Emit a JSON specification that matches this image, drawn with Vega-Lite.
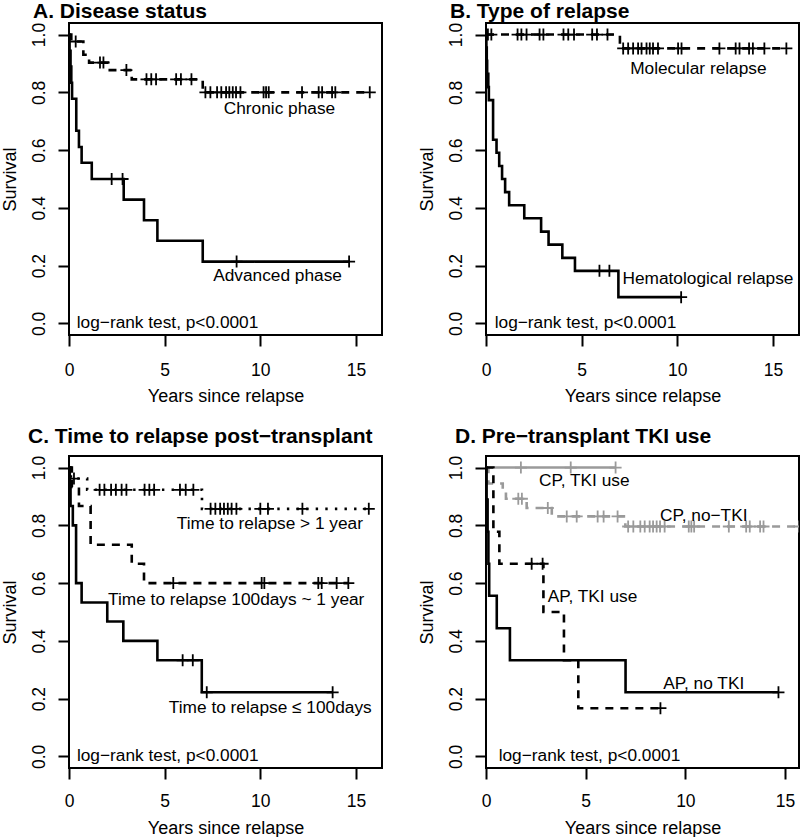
{
  "$schema": "https://vega.github.io/schema/vega-lite/v6.json",
  "padding": {"top": 0, "left": 0, "right": 0, "bottom": 0},
  "background": "white",
  "datasets": {
    "km": [
      {"p":"A","g":"Chronic phase","t":0,"s":1},
      {"p":"A","g":"Chronic phase","t":0.12,"s":0.976},
      {"p":"A","g":"Chronic phase","t":0.35,"s":0.976,"c":1},
      {"p":"A","g":"Chronic phase","t":0.75,"s":0.93},
      {"p":"A","g":"Chronic phase","t":1.05,"s":0.903},
      {"p":"A","g":"Chronic phase","t":1.62,"s":0.903,"c":1},
      {"p":"A","g":"Chronic phase","t":1.8,"s":0.903,"c":1},
      {"p":"A","g":"Chronic phase","t":2.04,"s":0.877},
      {"p":"A","g":"Chronic phase","t":3.0,"s":0.877,"c":1},
      {"p":"A","g":"Chronic phase","t":3.28,"s":0.845},
      {"p":"A","g":"Chronic phase","t":4.05,"s":0.845,"c":1},
      {"p":"A","g":"Chronic phase","t":4.3,"s":0.845,"c":1},
      {"p":"A","g":"Chronic phase","t":4.55,"s":0.845,"c":1},
      {"p":"A","g":"Chronic phase","t":5.6,"s":0.845,"c":1},
      {"p":"A","g":"Chronic phase","t":5.85,"s":0.845,"c":1},
      {"p":"A","g":"Chronic phase","t":6.4,"s":0.845,"c":1},
      {"p":"A","g":"Chronic phase","t":6.99,"s":0.8},
      {"p":"A","g":"Chronic phase","t":7.13,"s":0.8,"c":1},
      {"p":"A","g":"Chronic phase","t":7.39,"s":0.8,"c":1},
      {"p":"A","g":"Chronic phase","t":7.74,"s":0.8,"c":1},
      {"p":"A","g":"Chronic phase","t":7.96,"s":0.8,"c":1},
      {"p":"A","g":"Chronic phase","t":8.21,"s":0.8,"c":1},
      {"p":"A","g":"Chronic phase","t":8.38,"s":0.8,"c":1},
      {"p":"A","g":"Chronic phase","t":8.56,"s":0.8,"c":1},
      {"p":"A","g":"Chronic phase","t":8.73,"s":0.8,"c":1},
      {"p":"A","g":"Chronic phase","t":8.96,"s":0.8,"c":1},
      {"p":"A","g":"Chronic phase","t":10.17,"s":0.8,"c":1},
      {"p":"A","g":"Chronic phase","t":10.3,"s":0.8,"c":1},
      {"p":"A","g":"Chronic phase","t":10.44,"s":0.8,"c":1},
      {"p":"A","g":"Chronic phase","t":12.18,"s":0.8,"c":1},
      {"p":"A","g":"Chronic phase","t":13.05,"s":0.8,"c":1},
      {"p":"A","g":"Chronic phase","t":13.23,"s":0.8,"c":1},
      {"p":"A","g":"Chronic phase","t":13.75,"s":0.8,"c":1},
      {"p":"A","g":"Chronic phase","t":13.92,"s":0.8,"c":1},
      {"p":"A","g":"Chronic phase","t":15.72,"s":0.8,"c":1},

      {"p":"A","g":"Advanced phase","t":0,"s":1},
      {"p":"A","g":"Advanced phase","t":0.03,"s":0.944},
      {"p":"A","g":"Advanced phase","t":0.08,"s":0.889},
      {"p":"A","g":"Advanced phase","t":0.12,"s":0.833},
      {"p":"A","g":"Advanced phase","t":0.16,"s":0.778},
      {"p":"A","g":"Advanced phase","t":0.38,"s":0.667},
      {"p":"A","g":"Advanced phase","t":0.52,"s":0.611},
      {"p":"A","g":"Advanced phase","t":0.66,"s":0.556},
      {"p":"A","g":"Advanced phase","t":1.19,"s":0.5},
      {"p":"A","g":"Advanced phase","t":2.23,"s":0.5,"c":1},
      {"p":"A","g":"Advanced phase","t":2.8,"s":0.5,"c":1},
      {"p":"A","g":"Advanced phase","t":2.86,"s":0.4286},
      {"p":"A","g":"Advanced phase","t":3.92,"s":0.357},
      {"p":"A","g":"Advanced phase","t":4.62,"s":0.286},
      {"p":"A","g":"Advanced phase","t":6.99,"s":0.214},
      {"p":"A","g":"Advanced phase","t":8.76,"s":0.214,"c":1},
      {"p":"A","g":"Advanced phase","t":14.64,"s":0.214,"c":1},

      {"p":"B","g":"Molecular relapse","t":0,"s":1},
      {"p":"B","g":"Molecular relapse","t":0.1,"s":1,"c":1},
      {"p":"B","g":"Molecular relapse","t":0.28,"s":1,"c":1},
      {"p":"B","g":"Molecular relapse","t":1.65,"s":1,"c":1},
      {"p":"B","g":"Molecular relapse","t":1.85,"s":1,"c":1},
      {"p":"B","g":"Molecular relapse","t":2.12,"s":1,"c":1},
      {"p":"B","g":"Molecular relapse","t":2.8,"s":1,"c":1},
      {"p":"B","g":"Molecular relapse","t":3.0,"s":1,"c":1},
      {"p":"B","g":"Molecular relapse","t":4.05,"s":1,"c":1},
      {"p":"B","g":"Molecular relapse","t":4.3,"s":1,"c":1},
      {"p":"B","g":"Molecular relapse","t":4.6,"s":1,"c":1},
      {"p":"B","g":"Molecular relapse","t":5.55,"s":1,"c":1},
      {"p":"B","g":"Molecular relapse","t":5.8,"s":1,"c":1},
      {"p":"B","g":"Molecular relapse","t":6.35,"s":1,"c":1},
      {"p":"B","g":"Molecular relapse","t":7.0,"s":0.952},
      {"p":"B","g":"Molecular relapse","t":7.17,"s":0.952,"c":1},
      {"p":"B","g":"Molecular relapse","t":7.43,"s":0.952,"c":1},
      {"p":"B","g":"Molecular relapse","t":7.69,"s":0.952,"c":1},
      {"p":"B","g":"Molecular relapse","t":7.95,"s":0.952,"c":1},
      {"p":"B","g":"Molecular relapse","t":8.13,"s":0.952,"c":1},
      {"p":"B","g":"Molecular relapse","t":8.39,"s":0.952,"c":1},
      {"p":"B","g":"Molecular relapse","t":8.56,"s":0.952,"c":1},
      {"p":"B","g":"Molecular relapse","t":8.73,"s":0.952,"c":1},
      {"p":"B","g":"Molecular relapse","t":8.99,"s":0.952,"c":1},
      {"p":"B","g":"Molecular relapse","t":10.04,"s":0.952,"c":1},
      {"p":"B","g":"Molecular relapse","t":10.22,"s":0.952,"c":1},
      {"p":"B","g":"Molecular relapse","t":12.2,"s":0.952,"c":1},
      {"p":"B","g":"Molecular relapse","t":13.05,"s":0.952,"c":1},
      {"p":"B","g":"Molecular relapse","t":13.25,"s":0.952,"c":1},
      {"p":"B","g":"Molecular relapse","t":13.75,"s":0.952,"c":1},
      {"p":"B","g":"Molecular relapse","t":13.95,"s":0.952,"c":1},
      {"p":"B","g":"Molecular relapse","t":14.55,"s":0.952,"c":1},
      {"p":"B","g":"Molecular relapse","t":15.7,"s":0.952,"c":1},

      {"p":"B","g":"Hematological relapse","t":0,"s":1},
      {"p":"B","g":"Hematological relapse","t":0.02,"s":0.955},
      {"p":"B","g":"Hematological relapse","t":0.04,"s":0.909},
      {"p":"B","g":"Hematological relapse","t":0.06,"s":0.864},
      {"p":"B","g":"Hematological relapse","t":0.12,"s":0.818},
      {"p":"B","g":"Hematological relapse","t":0.15,"s":0.773},
      {"p":"B","g":"Hematological relapse","t":0.37,"s":0.636},
      {"p":"B","g":"Hematological relapse","t":0.55,"s":0.591},
      {"p":"B","g":"Hematological relapse","t":0.69,"s":0.545},
      {"p":"B","g":"Hematological relapse","t":0.84,"s":0.5},
      {"p":"B","g":"Hematological relapse","t":1.0,"s":0.4545},
      {"p":"B","g":"Hematological relapse","t":1.21,"s":0.409},
      {"p":"B","g":"Hematological relapse","t":2.0,"s":0.364},
      {"p":"B","g":"Hematological relapse","t":2.88,"s":0.318},
      {"p":"B","g":"Hematological relapse","t":3.27,"s":0.273},
      {"p":"B","g":"Hematological relapse","t":3.99,"s":0.227},
      {"p":"B","g":"Hematological relapse","t":4.65,"s":0.182},
      {"p":"B","g":"Hematological relapse","t":5.93,"s":0.182,"c":1},
      {"p":"B","g":"Hematological relapse","t":6.45,"s":0.182,"c":1},
      {"p":"B","g":"Hematological relapse","t":6.92,"s":0.091},
      {"p":"B","g":"Hematological relapse","t":10.2,"s":0.091,"c":1},

      {"p":"C","g":"Time to relapse > 1 year","t":0,"s":1},
      {"p":"C","g":"Time to relapse > 1 year","t":0.1,"s":0.962},
      {"p":"C","g":"Time to relapse > 1 year","t":0.26,"s":0.962,"c":1},
      {"p":"C","g":"Time to relapse > 1 year","t":0.95,"s":0.923},
      {"p":"C","g":"Time to relapse > 1 year","t":1.6,"s":0.923,"c":1},
      {"p":"C","g":"Time to relapse > 1 year","t":1.85,"s":0.923,"c":1},
      {"p":"C","g":"Time to relapse > 1 year","t":2.2,"s":0.923,"c":1},
      {"p":"C","g":"Time to relapse > 1 year","t":2.45,"s":0.923,"c":1},
      {"p":"C","g":"Time to relapse > 1 year","t":2.75,"s":0.923,"c":1},
      {"p":"C","g":"Time to relapse > 1 year","t":3.0,"s":0.923,"c":1},
      {"p":"C","g":"Time to relapse > 1 year","t":3.95,"s":0.923,"c":1},
      {"p":"C","g":"Time to relapse > 1 year","t":4.2,"s":0.923,"c":1},
      {"p":"C","g":"Time to relapse > 1 year","t":4.45,"s":0.923,"c":1},
      {"p":"C","g":"Time to relapse > 1 year","t":5.8,"s":0.923,"c":1},
      {"p":"C","g":"Time to relapse > 1 year","t":6.1,"s":0.923,"c":1},
      {"p":"C","g":"Time to relapse > 1 year","t":6.5,"s":0.923,"c":1},
      {"p":"C","g":"Time to relapse > 1 year","t":6.95,"s":0.857},
      {"p":"C","g":"Time to relapse > 1 year","t":7.4,"s":0.857,"c":1},
      {"p":"C","g":"Time to relapse > 1 year","t":7.65,"s":0.857,"c":1},
      {"p":"C","g":"Time to relapse > 1 year","t":7.9,"s":0.857,"c":1},
      {"p":"C","g":"Time to relapse > 1 year","t":8.1,"s":0.857,"c":1},
      {"p":"C","g":"Time to relapse > 1 year","t":8.3,"s":0.857,"c":1},
      {"p":"C","g":"Time to relapse > 1 year","t":8.5,"s":0.857,"c":1},
      {"p":"C","g":"Time to relapse > 1 year","t":8.75,"s":0.857,"c":1},
      {"p":"C","g":"Time to relapse > 1 year","t":10.0,"s":0.857,"c":1},
      {"p":"C","g":"Time to relapse > 1 year","t":10.4,"s":0.857,"c":1},
      {"p":"C","g":"Time to relapse > 1 year","t":12.2,"s":0.857,"c":1},
      {"p":"C","g":"Time to relapse > 1 year","t":15.67,"s":0.857,"c":1},

      {"p":"C","g":"Time to relapse 100days ~ 1 year","t":0,"s":1},
      {"p":"C","g":"Time to relapse 100days ~ 1 year","t":0.15,"s":0.933},
      {"p":"C","g":"Time to relapse 100days ~ 1 year","t":0.52,"s":0.867},
      {"p":"C","g":"Time to relapse 100days ~ 1 year","t":1.13,"s":0.733},
      {"p":"C","g":"Time to relapse 100days ~ 1 year","t":3.28,"s":0.667},
      {"p":"C","g":"Time to relapse 100days ~ 1 year","t":3.92,"s":0.6},
      {"p":"C","g":"Time to relapse 100days ~ 1 year","t":5.45,"s":0.6,"c":1},
      {"p":"C","g":"Time to relapse 100days ~ 1 year","t":10.07,"s":0.6,"c":1},
      {"p":"C","g":"Time to relapse 100days ~ 1 year","t":10.21,"s":0.6,"c":1},
      {"p":"C","g":"Time to relapse 100days ~ 1 year","t":13.03,"s":0.6,"c":1},
      {"p":"C","g":"Time to relapse 100days ~ 1 year","t":13.21,"s":0.6,"c":1},
      {"p":"C","g":"Time to relapse 100days ~ 1 year","t":13.99,"s":0.6,"c":1},
      {"p":"C","g":"Time to relapse 100days ~ 1 year","t":14.6,"s":0.6,"c":1},

      {"p":"C","g":"Time to relapse ≤ 100days","t":0,"s":1},
      {"p":"C","g":"Time to relapse ≤ 100days","t":0.04,"s":0.933},
      {"p":"C","g":"Time to relapse ≤ 100days","t":0.08,"s":0.867},
      {"p":"C","g":"Time to relapse ≤ 100days","t":0.2,"s":0.8},
      {"p":"C","g":"Time to relapse ≤ 100days","t":0.37,"s":0.6},
      {"p":"C","g":"Time to relapse ≤ 100days","t":0.66,"s":0.533},
      {"p":"C","g":"Time to relapse ≤ 100days","t":2.0,"s":0.467},
      {"p":"C","g":"Time to relapse ≤ 100days","t":2.84,"s":0.4},
      {"p":"C","g":"Time to relapse ≤ 100days","t":4.62,"s":0.333},
      {"p":"C","g":"Time to relapse ≤ 100days","t":5.94,"s":0.333,"c":1},
      {"p":"C","g":"Time to relapse ≤ 100days","t":6.47,"s":0.333,"c":1},
      {"p":"C","g":"Time to relapse ≤ 100days","t":6.94,"s":0.222},
      {"p":"C","g":"Time to relapse ≤ 100days","t":7.2,"s":0.222,"c":1},
      {"p":"C","g":"Time to relapse ≤ 100days","t":13.78,"s":0.222,"c":1},

      {"p":"D","g":"CP, TKI use","t":0,"s":1},
      {"p":"D","g":"CP, TKI use","t":1.75,"s":1,"c":1},
      {"p":"D","g":"CP, TKI use","t":4.25,"s":1,"c":1},
      {"p":"D","g":"CP, TKI use","t":6.5,"s":1,"c":1},

      {"p":"D","g":"CP, no−TKI","t":0,"s":1},
      {"p":"D","g":"CP, no−TKI","t":0.12,"s":0.945},
      {"p":"D","g":"CP, no−TKI","t":0.84,"s":0.917},
      {"p":"D","g":"CP, no−TKI","t":1.0,"s":0.892},
      {"p":"D","g":"CP, no−TKI","t":1.62,"s":0.892,"c":1},
      {"p":"D","g":"CP, no−TKI","t":1.8,"s":0.892,"c":1},
      {"p":"D","g":"CP, no−TKI","t":2.04,"s":0.86},
      {"p":"D","g":"CP, no−TKI","t":3.1,"s":0.86,"c":1},
      {"p":"D","g":"CP, no−TKI","t":3.3,"s":0.831},
      {"p":"D","g":"CP, no−TKI","t":4.05,"s":0.831,"c":1},
      {"p":"D","g":"CP, no−TKI","t":4.55,"s":0.831,"c":1},
      {"p":"D","g":"CP, no−TKI","t":5.6,"s":0.831,"c":1},
      {"p":"D","g":"CP, no−TKI","t":5.9,"s":0.831,"c":1},
      {"p":"D","g":"CP, no−TKI","t":6.6,"s":0.831,"c":1},
      {"p":"D","g":"CP, no−TKI","t":6.99,"s":0.796},
      {"p":"D","g":"CP, no−TKI","t":7.13,"s":0.796,"c":1},
      {"p":"D","g":"CP, no−TKI","t":7.39,"s":0.796,"c":1},
      {"p":"D","g":"CP, no−TKI","t":7.74,"s":0.796,"c":1},
      {"p":"D","g":"CP, no−TKI","t":7.96,"s":0.796,"c":1},
      {"p":"D","g":"CP, no−TKI","t":8.21,"s":0.796,"c":1},
      {"p":"D","g":"CP, no−TKI","t":8.38,"s":0.796,"c":1},
      {"p":"D","g":"CP, no−TKI","t":8.56,"s":0.796,"c":1},
      {"p":"D","g":"CP, no−TKI","t":8.73,"s":0.796,"c":1},
      {"p":"D","g":"CP, no−TKI","t":8.96,"s":0.796,"c":1},
      {"p":"D","g":"CP, no−TKI","t":10.17,"s":0.796,"c":1},
      {"p":"D","g":"CP, no−TKI","t":10.3,"s":0.796,"c":1},
      {"p":"D","g":"CP, no−TKI","t":10.44,"s":0.796,"c":1},
      {"p":"D","g":"CP, no−TKI","t":12.18,"s":0.796,"c":1},
      {"p":"D","g":"CP, no−TKI","t":13.05,"s":0.796,"c":1},
      {"p":"D","g":"CP, no−TKI","t":13.23,"s":0.796,"c":1},
      {"p":"D","g":"CP, no−TKI","t":13.75,"s":0.796,"c":1},
      {"p":"D","g":"CP, no−TKI","t":13.92,"s":0.796,"c":1},
      {"p":"D","g":"CP, no−TKI","t":15.72,"s":0.796,"c":1},

      {"p":"D","g":"AP, TKI use","t":0,"s":1},
      {"p":"D","g":"AP, TKI use","t":0.37,"s":0.778},
      {"p":"D","g":"AP, TKI use","t":0.67,"s":0.667},
      {"p":"D","g":"AP, TKI use","t":2.29,"s":0.667,"c":1},
      {"p":"D","g":"AP, TKI use","t":2.84,"s":0.667,"c":1},
      {"p":"D","g":"AP, TKI use","t":2.88,"s":0.5},
      {"p":"D","g":"AP, TKI use","t":3.91,"s":0.333},
      {"p":"D","g":"AP, TKI use","t":4.63,"s":0.167},
      {"p":"D","g":"AP, TKI use","t":8.75,"s":0.167,"c":1},

      {"p":"D","g":"AP, no TKI","t":0,"s":1},
      {"p":"D","g":"AP, no TKI","t":0.03,"s":0.889},
      {"p":"D","g":"AP, no TKI","t":0.08,"s":0.778},
      {"p":"D","g":"AP, no TKI","t":0.12,"s":0.667},
      {"p":"D","g":"AP, no TKI","t":0.16,"s":0.556},
      {"p":"D","g":"AP, no TKI","t":0.54,"s":0.444},
      {"p":"D","g":"AP, no TKI","t":1.2,"s":0.333},
      {"p":"D","g":"AP, no TKI","t":7.0,"s":0.222},
      {"p":"D","g":"AP, no TKI","t":14.67,"s":0.222,"c":1}
    ],
    "labels": [
      {"p":"A","label":"Chronic phase","t":11.0,"s":0.743},
      {"p":"A","label":"Advanced phase","t":10.9,"s":0.163},
      {"p":"A","label":"log−rank test, p<0.0001","t":5.15,"s":0.0},
      {"p":"B","label":"Molecular relapse","t":11.1,"s":0.881},
      {"p":"B","label":"Hematological relapse","t":11.6,"s":0.154},
      {"p":"B","label":"log−rank test, p<0.0001","t":5.2,"s":0.0},
      {"p":"C","label":"Time to relapse > 1 year","t":10.5,"s":0.804},
      {"p":"C","label":"Time to relapse 100days ~ 1 year","t":8.74,"s":0.543},
      {"p":"C","label":"Time to relapse ≤ 100days","t":10.52,"s":0.166},
      {"p":"C","label":"log−rank test, p<0.0001","t":5.16,"s":0.0},
      {"p":"D","label":"CP, TKI use","t":4.93,"s":0.952},
      {"p":"D","label":"CP, no−TKI","t":10.92,"s":0.831},
      {"p":"D","label":"AP, TKI use","t":5.34,"s":0.552},
      {"p":"D","label":"AP, no TKI","t":10.92,"s":0.252},
      {"p":"D","label":"log−rank test, p<0.0001","t":5.19,"s":0.0}
    ]
  },
  "columns": 2,
  "spacing": {"row": 121, "column": 104},
  "bounds": "flush",
  "concat": [
    {
      "width": 313, "height": 312,
      "title": {"text": "A. Disease status", "dx": -36, "offset": 0},
      "encoding": {
        "x": {"field": "t", "type": "quantitative", "title": "Years since relapse", "scale": {"domain": [0, 16.36], "nice": false, "zero": false}, "axis": {"values": [0, 5, 10, 15]}},
        "y": {"field": "s", "type": "quantitative", "title": "Survival", "scale": {"domain": [-0.04, 1.04], "nice": false, "zero": false}, "axis": {"values": [0, 0.2, 0.4, 0.6, 0.8, 1], "format": ".1f"}}
      },
      "layer": [
        {"data": {"name": "km"}, "transform": [{"filter": "datum.p == 'A'"}],
         "mark": {"type": "line", "interpolate": "step-after", "strokeWidth": 2.6, "clip": true},
         "encoding": {
           "color": {"field": "g", "type": "nominal", "legend": null, "scale": {"domain": ["Chronic phase","Advanced phase","Molecular relapse","Hematological relapse","Time to relapse > 1 year","Time to relapse 100days ~ 1 year","Time to relapse ≤ 100days","CP, TKI use","CP, no−TKI","AP, TKI use","AP, no TKI"], "range": ["#000000","#000000","#000000","#000000","#000000","#000000","#000000","#9a9a9a","#9a9a9a","#000000","#000000"]}},
           "strokeDash": {"field": "g", "type": "nominal", "legend": null, "scale": {"domain": ["Chronic phase","Advanced phase","Molecular relapse","Hematological relapse","Time to relapse > 1 year","Time to relapse 100days ~ 1 year","Time to relapse ≤ 100days","CP, TKI use","CP, no−TKI","AP, TKI use","AP, no TKI"], "range": [[8,7],[1,0],[8,7],[1,0],[2.4,7.2],[8,7],[1,0],[1,0],[8,7],[8,7],[1,0]]}},
           "order": {"field": "t", "type": "quantitative"}
         }},
        {"data": {"name": "km"}, "transform": [{"filter": "datum.p == 'A' && datum.c == 1"}],
         "mark": {"type": "point", "shape": "M-1,0L1,0M0,-1L0,1", "filled": false, "size": 144, "strokeWidth": 1.8, "opacity": 1, "clip": true},
         "encoding": {"color": {"field": "g", "type": "nominal", "legend": null, "scale": {"domain": ["Chronic phase","Advanced phase","Molecular relapse","Hematological relapse","Time to relapse > 1 year","Time to relapse 100days ~ 1 year","Time to relapse ≤ 100days","CP, TKI use","CP, no−TKI","AP, TKI use","AP, no TKI"], "range": ["#000000","#000000","#000000","#000000","#000000","#000000","#000000","#9a9a9a","#9a9a9a","#000000","#000000"]}}}},
        {"data": {"name": "labels"}, "transform": [{"filter": "datum.p == 'A'"}],
         "mark": {"type": "text", "fontSize": 17.3, "font": "Liberation Sans", "color": "black", "align": "center", "baseline": "middle"},
         "encoding": {"text": {"field": "label"}}}
      ]
    },
    {
      "width": 313, "height": 312,
      "title": {"text": "B. Type of relapse", "dx": -36, "offset": 0},
      "encoding": {
        "x": {"field": "t", "type": "quantitative", "title": "Years since relapse", "scale": {"domain": [0, 16.36], "nice": false, "zero": false}, "axis": {"values": [0, 5, 10, 15]}},
        "y": {"field": "s", "type": "quantitative", "title": "Survival", "scale": {"domain": [-0.04, 1.04], "nice": false, "zero": false}, "axis": {"values": [0, 0.2, 0.4, 0.6, 0.8, 1], "format": ".1f"}}
      },
      "layer": [
        {"data": {"name": "km"}, "transform": [{"filter": "datum.p == 'B'"}],
         "mark": {"type": "line", "interpolate": "step-after", "strokeWidth": 2.6, "clip": true},
         "encoding": {
           "color": {"field": "g", "type": "nominal", "legend": null, "scale": {"domain": ["Chronic phase","Advanced phase","Molecular relapse","Hematological relapse","Time to relapse > 1 year","Time to relapse 100days ~ 1 year","Time to relapse ≤ 100days","CP, TKI use","CP, no−TKI","AP, TKI use","AP, no TKI"], "range": ["#000000","#000000","#000000","#000000","#000000","#000000","#000000","#9a9a9a","#9a9a9a","#000000","#000000"]}},
           "strokeDash": {"field": "g", "type": "nominal", "legend": null, "scale": {"domain": ["Chronic phase","Advanced phase","Molecular relapse","Hematological relapse","Time to relapse > 1 year","Time to relapse 100days ~ 1 year","Time to relapse ≤ 100days","CP, TKI use","CP, no−TKI","AP, TKI use","AP, no TKI"], "range": [[8,7],[1,0],[8,7],[1,0],[2.4,7.2],[8,7],[1,0],[1,0],[8,7],[8,7],[1,0]]}},
           "order": {"field": "t", "type": "quantitative"}
         }},
        {"data": {"name": "km"}, "transform": [{"filter": "datum.p == 'B' && datum.c == 1"}],
         "mark": {"type": "point", "shape": "M-1,0L1,0M0,-1L0,1", "filled": false, "size": 144, "strokeWidth": 1.8, "opacity": 1, "clip": true},
         "encoding": {"color": {"field": "g", "type": "nominal", "legend": null, "scale": {"domain": ["Chronic phase","Advanced phase","Molecular relapse","Hematological relapse","Time to relapse > 1 year","Time to relapse 100days ~ 1 year","Time to relapse ≤ 100days","CP, TKI use","CP, no−TKI","AP, TKI use","AP, no TKI"], "range": ["#000000","#000000","#000000","#000000","#000000","#000000","#000000","#9a9a9a","#9a9a9a","#000000","#000000"]}}}},
        {"data": {"name": "labels"}, "transform": [{"filter": "datum.p == 'B'"}],
         "mark": {"type": "text", "fontSize": 17.3, "font": "Liberation Sans", "color": "black", "align": "center", "baseline": "middle"},
         "encoding": {"text": {"field": "label"}}}
      ]
    },
    {
      "width": 313, "height": 312,
      "title": {"text": "C. Time to relapse post−transplant", "dx": -41, "offset": 8},
      "encoding": {
        "x": {"field": "t", "type": "quantitative", "title": "Years since relapse", "scale": {"domain": [0, 16.36], "nice": false, "zero": false}, "axis": {"values": [0, 5, 10, 15], "labelPadding": 27, "titleY": 65}},
        "y": {"field": "s", "type": "quantitative", "title": "Survival", "scale": {"domain": [-0.04, 1.04], "nice": false, "zero": false}, "axis": {"values": [0, 0.2, 0.4, 0.6, 0.8, 1], "format": ".1f"}}
      },
      "layer": [
        {"data": {"name": "km"}, "transform": [{"filter": "datum.p == 'C'"}],
         "mark": {"type": "line", "interpolate": "step-after", "strokeWidth": 2.6, "clip": true},
         "encoding": {
           "color": {"field": "g", "type": "nominal", "legend": null, "scale": {"domain": ["Chronic phase","Advanced phase","Molecular relapse","Hematological relapse","Time to relapse > 1 year","Time to relapse 100days ~ 1 year","Time to relapse ≤ 100days","CP, TKI use","CP, no−TKI","AP, TKI use","AP, no TKI"], "range": ["#000000","#000000","#000000","#000000","#000000","#000000","#000000","#9a9a9a","#9a9a9a","#000000","#000000"]}},
           "strokeDash": {"field": "g", "type": "nominal", "legend": null, "scale": {"domain": ["Chronic phase","Advanced phase","Molecular relapse","Hematological relapse","Time to relapse > 1 year","Time to relapse 100days ~ 1 year","Time to relapse ≤ 100days","CP, TKI use","CP, no−TKI","AP, TKI use","AP, no TKI"], "range": [[8,7],[1,0],[8,7],[1,0],[2.4,7.2],[8,7],[1,0],[1,0],[8,7],[8,7],[1,0]]}},
           "order": {"field": "t", "type": "quantitative"}
         }},
        {"data": {"name": "km"}, "transform": [{"filter": "datum.p == 'C' && datum.c == 1"}],
         "mark": {"type": "point", "shape": "M-1,0L1,0M0,-1L0,1", "filled": false, "size": 144, "strokeWidth": 1.8, "opacity": 1, "clip": true},
         "encoding": {"color": {"field": "g", "type": "nominal", "legend": null, "scale": {"domain": ["Chronic phase","Advanced phase","Molecular relapse","Hematological relapse","Time to relapse > 1 year","Time to relapse 100days ~ 1 year","Time to relapse ≤ 100days","CP, TKI use","CP, no−TKI","AP, TKI use","AP, no TKI"], "range": ["#000000","#000000","#000000","#000000","#000000","#000000","#000000","#9a9a9a","#9a9a9a","#000000","#000000"]}}}},
        {"data": {"name": "labels"}, "transform": [{"filter": "datum.p == 'C'"}],
         "mark": {"type": "text", "fontSize": 17.3, "font": "Liberation Sans", "color": "black", "align": "center", "baseline": "middle"},
         "encoding": {"text": {"field": "label"}}}
      ]
    },
    {
      "width": 313, "height": 312,
      "title": {"text": "D. Pre−transplant TKI use", "dx": -31, "offset": 8},
      "encoding": {
        "x": {"field": "t", "type": "quantitative", "title": "Years since relapse", "scale": {"domain": [0, 15.7], "nice": false, "zero": false}, "axis": {"values": [0, 5, 10, 15], "labelPadding": 27, "titleY": 65}},
        "y": {"field": "s", "type": "quantitative", "title": "Survival", "scale": {"domain": [-0.04, 1.04], "nice": false, "zero": false}, "axis": {"values": [0, 0.2, 0.4, 0.6, 0.8, 1], "format": ".1f"}}
      },
      "layer": [
        {"data": {"name": "km"}, "transform": [{"filter": "datum.p == 'D'"}],
         "mark": {"type": "line", "interpolate": "step-after", "strokeWidth": 2.6, "clip": true},
         "encoding": {
           "color": {"field": "g", "type": "nominal", "legend": null, "scale": {"domain": ["Chronic phase","Advanced phase","Molecular relapse","Hematological relapse","Time to relapse > 1 year","Time to relapse 100days ~ 1 year","Time to relapse ≤ 100days","CP, TKI use","CP, no−TKI","AP, TKI use","AP, no TKI"], "range": ["#000000","#000000","#000000","#000000","#000000","#000000","#000000","#9a9a9a","#9a9a9a","#000000","#000000"]}},
           "strokeDash": {"field": "g", "type": "nominal", "legend": null, "scale": {"domain": ["Chronic phase","Advanced phase","Molecular relapse","Hematological relapse","Time to relapse > 1 year","Time to relapse 100days ~ 1 year","Time to relapse ≤ 100days","CP, TKI use","CP, no−TKI","AP, TKI use","AP, no TKI"], "range": [[8,7],[1,0],[8,7],[1,0],[2.4,7.2],[8,7],[1,0],[1,0],[8,7],[8,7],[1,0]]}},
           "order": {"field": "t", "type": "quantitative"}
         }},
        {"data": {"name": "km"}, "transform": [{"filter": "datum.p == 'D' && datum.c == 1"}],
         "mark": {"type": "point", "shape": "M-1,0L1,0M0,-1L0,1", "filled": false, "size": 144, "strokeWidth": 1.8, "opacity": 1, "clip": true},
         "encoding": {"color": {"field": "g", "type": "nominal", "legend": null, "scale": {"domain": ["Chronic phase","Advanced phase","Molecular relapse","Hematological relapse","Time to relapse > 1 year","Time to relapse 100days ~ 1 year","Time to relapse ≤ 100days","CP, TKI use","CP, no−TKI","AP, TKI use","AP, no TKI"], "range": ["#000000","#000000","#000000","#000000","#000000","#000000","#000000","#9a9a9a","#9a9a9a","#000000","#000000"]}}}},
        {"data": {"name": "labels"}, "transform": [{"filter": "datum.p == 'D'"}],
         "mark": {"type": "text", "fontSize": 17.3, "font": "Liberation Sans", "color": "black", "align": "center", "baseline": "middle"},
         "encoding": {"text": {"field": "label"}}}
      ]
    }
  ],
  "config": {
    "font": "Liberation Sans",
    "view": {"stroke": "black", "strokeWidth": 2},
    "axis": {"domain": false, "grid": false, "tickColor": "black", "tickWidth": 2, "tickSize": 11, "labelColor": "black", "labelFont": "Liberation Sans", "labelFontSize": 17.5, "labelFlush": false, "labelOverlap": false, "labelBound": false, "titleColor": "black", "titleFont": "Liberation Sans", "titleFontSize": 18, "titleFontWeight": "normal"},
    "axisX": {"labelBaseline": "alphabetic", "labelPadding": 29, "labelAngle": 0, "titleBaseline": "alphabetic", "titleY": 66},
    "axisY": {"labelAngle": 270, "labelAlign": "center", "labelBaseline": "alphabetic", "labelPadding": 14, "titleAngle": 270, "titleX": -54, "titleY": 156, "titleAlign": "center", "titleBaseline": "alphabetic"},
    "title": {"anchor": "start", "frame": "group", "font": "Liberation Sans", "fontSize": 21, "fontWeight": "bold", "color": "black", "baseline": "alphabetic"}
  }
}
